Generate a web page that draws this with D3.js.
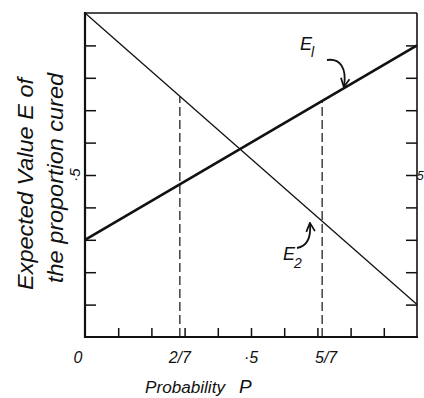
<!DOCTYPE html>
<html>
<head>
<meta charset="utf-8">
<style>
body { margin: 0; background: #fff; }
.lbl { font-family: "Liberation Sans", sans-serif; font-style: italic; fill: #111; }
</style>
<script src="https://cdn.jsdelivr.net/npm/d3@7"></script>
</head>
<body>
<div id="THE_CONTAINER"></div>
<script>
// data
const probs = [0, 1];
const e1Vals = [0.3, 0.9];
const e2Vals = [1.0, 0.1];
const tickVals = [0.1, 0.2, 0.3, 0.4, 0.5, 0.6, 0.7, 0.8, 0.9];
const xLabelVals = [0, 2 / 7, 0.5, 5 / 7];
const xLabels = ["0", "2/7", "·5", "5/7"];
const dashProbs = [2 / 7, 5 / 7];
const dashTops = [0.743, 0.729];

const W = 424, H = 398;
const svg = d3.select("#THE_CONTAINER").append("svg")
  .attr("width", W).attr("height", H);

const x = d3.scaleLinear().domain([0, 1]).range([85, 417]);
const y = d3.scaleLinear().domain([0, 1]).range([337, 13]);

// inward ticks
svg.append("g").attr("transform", `translate(${x(0)},0)`)
  .call(d3.axisLeft(y).tickValues(tickVals).tickSize(-11).tickFormat(""))
  .call(g => g.select(".domain").remove());
svg.append("g").attr("transform", `translate(${x(1)},0)`)
  .call(d3.axisRight(y).tickValues(tickVals).tickSize(-11).tickFormat(""))
  .call(g => g.select(".domain").remove());
svg.append("g").attr("transform", `translate(0,${y(0)})`)
  .call(d3.axisBottom(x).tickValues(tickVals).tickSize(-9).tickFormat(""))
  .call(g => g.select(".domain").remove());
svg.selectAll(".tick line").attr("stroke", "#111").attr("stroke-width", 1.5);

// frame
svg.append("line").attr("x1", x(0)).attr("x2", x(1)).attr("y1", y(1)).attr("y2", y(1))
  .attr("stroke", "#111").attr("stroke-width", 1.6);
svg.append("line").attr("x1", x(1)).attr("x2", x(1)).attr("y1", y(1)).attr("y2", y(0))
  .attr("stroke", "#111").attr("stroke-width", 1.6);
svg.append("line").attr("x1", x(0)).attr("x2", x(0)).attr("y1", y(1) - 1).attr("y2", y(0) + 1)
  .attr("stroke", "#111").attr("stroke-width", 2.2);
svg.append("line").attr("x1", x(0) - 1).attr("x2", x(1) + 1).attr("y1", y(0)).attr("y2", y(0))
  .attr("stroke", "#111").attr("stroke-width", 2.2);

// dashed guides
svg.selectAll(".guide").data(dashProbs).enter().append("line")
  .attr("class", "guide")
  .attr("x1", d => x(d)).attr("x2", d => x(d))
  .attr("y1", y(0)).attr("y2", (d, i) => y(dashTops[i]))
  .attr("stroke", "#111").attr("stroke-width", 1.2)
  .attr("stroke-dasharray", "9,4");

// lines
const line = d3.line().x(d => x(d[0])).y(d => y(d[1]));
svg.append("path").datum(probs.map((p, i) => [p, e1Vals[i]]))
  .attr("d", line).attr("fill", "none").attr("stroke", "#111").attr("stroke-width", 2.6);
svg.append("path").datum(probs.map((p, i) => [p, e2Vals[i]]))
  .attr("d", line).attr("fill", "none").attr("stroke", "#111").attr("stroke-width", 1.3);

// x tick labels
svg.selectAll(".xl").data(xLabelVals).enter().append("text")
  .attr("class", "lbl")
  .attr("x", (d, i) => x(d) + (i === 0 ? -7 : i === 3 ? 4 : 0))
  .attr("y", 363)
  .attr("text-anchor", "middle")
  .attr("font-size", 16)
  .text((d, i) => xLabels[i]);

// axis titles
svg.append("text").attr("class", "lbl")
  .attr("x", 145).attr("y", 393).attr("font-size", 16)
  .attr("textLength", 80).attr("lengthAdjust", "spacingAndGlyphs")
  .text("Probability");
svg.append("text").attr("class", "lbl")
  .attr("x", 239).attr("y", 393).attr("font-size", 19)
  .text("P");

const yt = svg.append("g").attr("transform", "translate(0,184) rotate(-90)");
yt.append("text").attr("class", "lbl")
  .attr("x", 0).attr("y", 33).attr("text-anchor", "middle").attr("font-size", 22)
  .attr("textLength", 212).attr("lengthAdjust", "spacingAndGlyphs")
  .text("Expected Value E of");
yt.append("text").attr("class", "lbl")
  .attr("x", 6).attr("y", 63).attr("text-anchor", "middle").attr("font-size", 22)
  .attr("textLength", 210).attr("lengthAdjust", "spacingAndGlyphs")
  .text("the proportion cured");

// ·5 labels on the vertical axes
svg.append("text").attr("class", "lbl")
  .attr("transform", `translate(80,${y(0.5)}) rotate(-90)`)
  .attr("text-anchor", "middle").attr("font-size", 15)
  .text("·5");
svg.append("text").attr("class", "lbl")
  .attr("x", 417).attr("y", y(0.5) + 5).attr("font-size", 12)
  .text("5");

// annotations
svg.append("defs").append("marker")
  .attr("id", "ah").attr("viewBox", "0 0 10 10").attr("refX", 8).attr("refY", 5)
  .attr("markerWidth", 6).attr("markerHeight", 6).attr("orient", "auto-start-reverse")
  .append("path").attr("d", "M1,1 L9,5 L1,9").attr("fill", "none").attr("stroke", "#111").attr("stroke-width", 1.6);

svg.append("text").attr("class", "lbl").attr("x", 300).attr("y", 50).attr("font-size", 18).text("E");
svg.append("text").attr("class", "lbl").attr("x", 311).attr("y", 57).attr("font-size", 14).text("l");
svg.append("path").attr("d", "M327,60 C340,58 347,68 344,86")
  .attr("fill", "none").attr("stroke", "#111").attr("stroke-width", 1.8).attr("marker-end", "url(#ah)");

svg.append("text").attr("class", "lbl").attr("x", 283).attr("y", 260).attr("font-size", 18).text("E");
svg.append("text").attr("class", "lbl").attr("x", 294).attr("y", 268).attr("font-size", 14).text("2");
svg.append("path").attr("d", "M297,248 C308,246 311,236 310,224")
  .attr("fill", "none").attr("stroke", "#111").attr("stroke-width", 1.8).attr("marker-end", "url(#ah)");
</script>
</body>
</html>
